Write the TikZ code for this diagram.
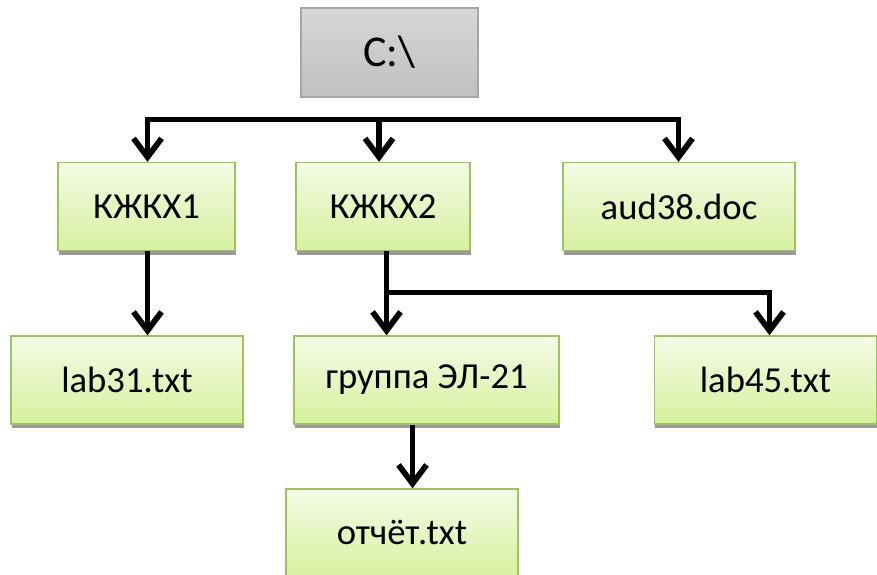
\documentclass[tikz,border=0pt]{standalone}
\usepackage{fontspec}
\setmainfont{Carlito}
\usepackage{xcolor}
\usetikzlibrary{arrows.meta}
\usetikzlibrary{shadows}

\definecolor{boxtop}{RGB}{244,251,230}
\definecolor{boxbot}{RGB}{214,240,158}
\definecolor{boxedge}{RGB}{155,196,90}
\definecolor{roottop}{RGB}{214,214,214}
\definecolor{rootbot}{RGB}{192,192,192}
\definecolor{rootedge}{RGB}{166,166,166}

\tikzset{
  folder/.style={draw=boxedge,line width=1pt,top color=boxtop,bottom color=boxbot,
    minimum height=66pt,inner sep=0pt,font=\fontsize{27.5}{30}\selectfont,
    drop shadow={shadow xshift=0.4pt,shadow yshift=-3pt,fill=black!40,opacity=1}},
  rootbox/.style={draw=rootedge,line width=1pt,top color=roottop,bottom color=rootbot,
    minimum height=66.75pt,minimum width=132.75pt,inner sep=0pt,
    font=\fontsize{33}{36}\selectfont},
  wire/.style={line width=4.3pt},
  tip/.style={-{Straight Barb[length=14pt,width=21pt]}},
  tips/.style={{Straight Barb[length=14pt,width=21pt]}-{Straight Barb[length=14pt,width=21pt]}},
}

\begin{document}
\begin{tikzpicture}[x=0.75pt,y=-0.75pt]
        \useasboundingbox (0,0) rectangle (877,574);

        %------------------
        % boxes
        %------------------

        \node[rootbox] (root) at (389.5,52.5) {C:\textbackslash};

        \node[folder,minimum width=132.75pt] (kx1) at (146.5,206.5) {КЖКХ1};
        \node[folder,minimum width=130.5pt] (kx2) at (383,206.5) {КЖКХ2};
        \node[folder,minimum width=174pt] (aud) at (679,206.5) {aud38.doc};

        \node[folder,minimum width=174pt] (lab31) at (127,380) {lab31.txt};
        \node[folder,minimum width=198.75pt] (grp) at (426.5,380) {группа ЭЛ-21};
        \node[folder,minimum width=166.5pt] (lab45) at (765.5,380) {lab45.txt};

        \node[folder,minimum width=174pt] (rep) at (402,533) {отчёт.txt};

        %------------------
        % arrows
        %------------------

        \coordinate (busL) at (147.5,119.5);
        \coordinate (busM) at (379,119.5);
        \coordinate (busR) at (678.5,119.5);
        \draw[wire,tips] (busL |- kx1.north) -- (busL) -- (busR) -- (busR |- aud.north);
        \draw[wire,tip] (busM) -- (busM |- kx2.north);

        \draw[wire,tip] (busL |- kx1.south) -- (busL |- lab31.north);

        \coordinate (fork) at (386.5,292.5);
        \coordinate (forkR) at (769.5,292.5);
        \draw[wire,tip] (fork |- kx2.south) -- (fork |- grp.north);
        \draw[wire,tip] (fork) -- (forkR) -- (forkR |- lab45.north);

        \coordinate (drop) at (412.5,425);
        \draw[wire,tip] (drop |- grp.south) -- (drop |- rep.north);
      \end{tikzpicture}
\end{document}
